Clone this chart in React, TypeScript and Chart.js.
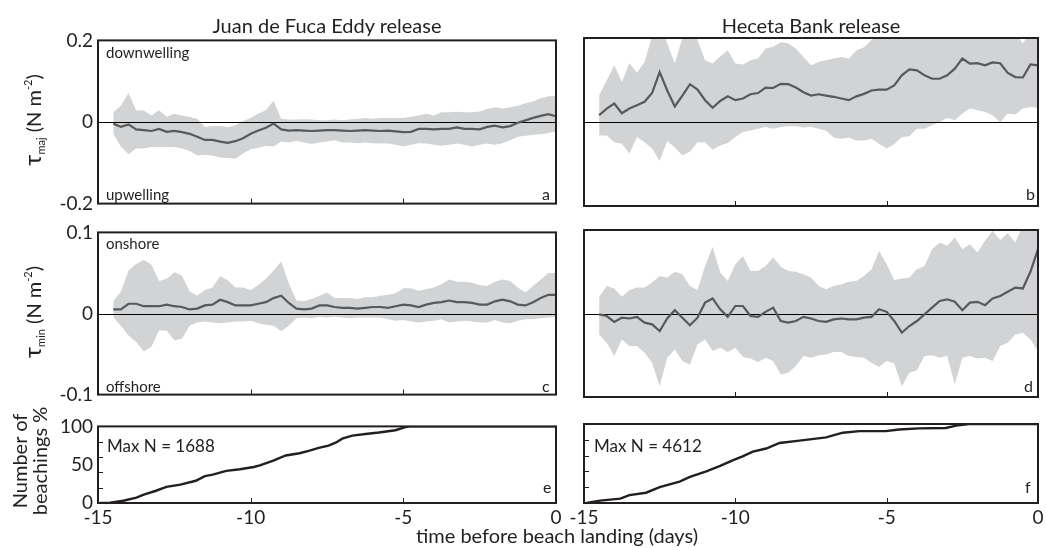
import React, { useEffect, useRef } from "react";
import { Chart, registerables } from "chart.js";
Chart.register(...registerables);

// ---------- data ----------
const DAYS = [-14.5, -14.25, -14, -13.75, -13.5, -13.25, -13, -12.75, -12.5, -12.25, -12, -11.75, -11.5, -11.25, -11, -10.75, -10.5, -10.25, -10, -9.75, -9.5, -9.25, -9, -8.75, -8.5, -8.25, -8, -7.75, -7.5, -7.25, -7, -6.75, -6.5, -6.25, -6, -5.75, -5.5, -5.25, -5, -4.75, -4.5, -4.25, -4, -3.75, -3.5, -3.25, -3, -2.75, -2.5, -2.25, -2, -1.75, -1.5, -1.25, -1, -0.75, -0.5, -0.25, 0];

const JDF_MAJ_MEAN = [-0.004, -0.012, -0.006, -0.018, -0.02, -0.022, -0.017, -0.024, -0.022, -0.025, -0.029, -0.036, -0.044, -0.044, -0.048, -0.051, -0.047, -0.04, -0.029, -0.021, -0.014, -0.004, -0.018, -0.021, -0.02, -0.021, -0.022, -0.021, -0.02, -0.02, -0.021, -0.022, -0.021, -0.02, -0.021, -0.022, -0.021, -0.023, -0.025, -0.024, -0.017, -0.017, -0.018, -0.017, -0.017, -0.013, -0.017, -0.017, -0.018, -0.012, -0.009, -0.013, -0.01, -0.002, 0.004, 0.01, 0.015, 0.019, 0.014];
const JDF_MAJ_UPPER = [0.024, 0.04, 0.071, 0.029, 0.028, 0.016, 0.029, 0.013, 0.02, 0.016, 0.012, 0.008, -0.012, -0.01, -0.01, -0.013, -0.008, 0.002, 0.01, 0.021, 0.029, 0.052, 0.008, 0.006, 0.006, 0.007, 0.006, 0.004, 0.004, 0.006, 0.004, 0.006, 0.008, 0.01, 0.008, 0.01, 0.01, 0.01, 0.01, 0.013, 0.016, 0.02, 0.016, 0.024, 0.024, 0.025, 0.024, 0.024, 0.026, 0.032, 0.036, 0.033, 0.036, 0.04, 0.046, 0.05, 0.058, 0.063, 0.064];
const JDF_MAJ_LOWER = [-0.028, -0.06, -0.079, -0.065, -0.065, -0.061, -0.061, -0.061, -0.061, -0.065, -0.071, -0.082, -0.08, -0.082, -0.087, -0.088, -0.09, -0.077, -0.067, -0.063, -0.058, -0.06, -0.048, -0.05, -0.046, -0.05, -0.054, -0.05, -0.048, -0.045, -0.05, -0.05, -0.052, -0.05, -0.052, -0.053, -0.053, -0.056, -0.06, -0.056, -0.052, -0.053, -0.056, -0.058, -0.056, -0.053, -0.056, -0.06, -0.056, -0.053, -0.056, -0.052, -0.045, -0.036, -0.034, -0.031, -0.03, -0.027, -0.023];

const HB_MAJ_MEAN = [0.016, 0.032, 0.044, 0.021, 0.032, 0.04, 0.048, 0.069, 0.119, 0.075, 0.037, 0.063, 0.09, 0.077, 0.052, 0.034, 0.05, 0.061, 0.052, 0.056, 0.066, 0.069, 0.082, 0.081, 0.091, 0.09, 0.082, 0.071, 0.063, 0.066, 0.063, 0.06, 0.056, 0.052, 0.061, 0.067, 0.075, 0.077, 0.077, 0.087, 0.111, 0.125, 0.123, 0.111, 0.103, 0.103, 0.111, 0.127, 0.151, 0.139, 0.14, 0.135, 0.142, 0.14, 0.117, 0.107, 0.106, 0.137, 0.135];
const HB_MAJ_UPPER = [0.063, 0.099, 0.135, 0.095, 0.14, 0.117, 0.143, 0.205, 0.24, 0.187, 0.139, 0.2, 0.24, 0.195, 0.147, 0.139, 0.156, 0.171, 0.139, 0.137, 0.147, 0.151, 0.175, 0.179, 0.19, 0.187, 0.175, 0.155, 0.135, 0.143, 0.147, 0.151, 0.155, 0.151, 0.17, 0.178, 0.195, 0.215, 0.23, 0.24, 0.23, 0.25, 0.24, 0.23, 0.25, 0.24, 0.23, 0.24, 0.25, 0.24, 0.23, 0.24, 0.23, 0.22, 0.23, 0.21, 0.187, 0.215, 0.23];
const HB_MAJ_LOWER = [-0.032, -0.032, -0.048, -0.052, -0.075, -0.036, -0.048, -0.063, -0.093, -0.045, -0.061, -0.079, -0.071, -0.048, -0.048, -0.066, -0.056, -0.05, -0.036, -0.024, -0.02, -0.016, -0.012, -0.016, -0.012, -0.01, -0.01, -0.013, -0.012, -0.016, -0.021, -0.037, -0.04, -0.037, -0.044, -0.044, -0.04, -0.052, -0.063, -0.053, -0.036, -0.034, -0.016, -0.016, -0.008, 0, 0.01, 0.004, 0.02, 0.032, 0.028, 0.024, 0.016, 0, 0.02, 0.018, 0.032, 0.036, 0.034];

const JDF_MIN_MEAN = [0.005, 0.005, 0.012, 0.012, 0.009, 0.009, 0.009, 0.011, 0.009, 0.008, 0.005, 0.006, 0.01, 0.011, 0.017, 0.014, 0.01, 0.01, 0.01, 0.012, 0.014, 0.019, 0.022, 0.013, 0.006, 0.005, 0.006, 0.01, 0.01, 0.008, 0.007, 0.007, 0.006, 0.007, 0.008, 0.008, 0.007, 0.009, 0.011, 0.01, 0.008, 0.011, 0.013, 0.014, 0.016, 0.014, 0.014, 0.013, 0.011, 0.011, 0.015, 0.017, 0.015, 0.011, 0.01, 0.014, 0.019, 0.023, 0.023];
const JDF_MIN_UPPER = [0.015, 0.027, 0.053, 0.061, 0.066, 0.06, 0.04, 0.043, 0.051, 0.047, 0.027, 0.022, 0.029, 0.032, 0.046, 0.041, 0.032, 0.032, 0.029, 0.035, 0.043, 0.053, 0.064, 0.037, 0.016, 0.015, 0.018, 0.022, 0.026, 0.019, 0.019, 0.019, 0.018, 0.02, 0.02, 0.022, 0.023, 0.025, 0.031, 0.031, 0.028, 0.03, 0.032, 0.036, 0.042, 0.039, 0.039, 0.038, 0.035, 0.034, 0.039, 0.042, 0.04, 0.032, 0.026, 0.034, 0.042, 0.05, 0.05];
const JDF_MIN_LOWER = [-0.005, -0.015, -0.027, -0.035, -0.047, -0.041, -0.021, -0.021, -0.033, -0.031, -0.015, -0.011, -0.01, -0.011, -0.012, -0.011, -0.01, -0.01, -0.009, -0.012, -0.014, -0.015, -0.022, -0.015, -0.006, -0.005, -0.006, -0.004, -0.005, -0.004, -0.005, -0.006, -0.005, -0.005, -0.005, -0.005, -0.007, -0.009, -0.008, -0.01, -0.011, -0.01, -0.009, -0.007, -0.011, -0.01, -0.009, -0.01, -0.011, -0.011, -0.008, -0.011, -0.012, -0.009, -0.007, -0.007, -0.006, -0.005, -0.004];

const HB_MIN_MEAN = [-0.001, -0.003, -0.01, -0.005, -0.006, -0.004, -0.011, -0.013, -0.021, -0.006, 0.004, -0.005, -0.014, -0.005, 0.013, 0.018, 0.005, -0.004, 0.009, 0.009, -0.003, -0.004, 0.002, 0.007, -0.009, -0.011, -0.009, -0.004, -0.006, -0.009, -0.01, -0.007, -0.006, -0.007, -0.007, -0.005, -0.004, 0.005, 0.002, -0.009, -0.023, -0.015, -0.009, -0.001, 0.007, 0.015, 0.017, 0.014, 0.004, 0.013, 0.014, 0.01, 0.018, 0.021, 0.026, 0.031, 0.03, 0.05, 0.077];
const HB_MIN_UPPER = [0.02, 0.033, 0.03, 0.02, 0.028, 0.031, 0.031, 0.037, 0.045, 0.043, 0.05, 0.047, 0.033, 0.028, 0.057, 0.08, 0.049, 0.039, 0.059, 0.069, 0.051, 0.051, 0.057, 0.067, 0.056, 0.051, 0.05, 0.047, 0.043, 0.033, 0.029, 0.033, 0.035, 0.038, 0.039, 0.045, 0.053, 0.075, 0.059, 0.04, 0.042, 0.043, 0.053, 0.057, 0.077, 0.085, 0.081, 0.091, 0.077, 0.083, 0.073, 0.087, 0.099, 0.088, 0.096, 0.085, 0.105, 0.11, 0.11];
const HB_MIN_LOWER = [-0.025, -0.035, -0.051, -0.031, -0.039, -0.039, -0.047, -0.059, -0.087, -0.053, -0.043, -0.057, -0.061, -0.037, -0.031, -0.045, -0.041, -0.046, -0.041, -0.052, -0.054, -0.058, -0.053, -0.057, -0.073, -0.071, -0.063, -0.051, -0.053, -0.05, -0.049, -0.046, -0.046, -0.051, -0.052, -0.053, -0.059, -0.064, -0.057, -0.06, -0.087, -0.071, -0.068, -0.051, -0.05, -0.053, -0.051, -0.085, -0.053, -0.051, -0.054, -0.053, -0.057, -0.039, -0.035, -0.025, -0.023, -0.031, -0.045];

const JDF_BEACH_DAYS = [-14.93, -14.6, -14.17, -13.74, -13.5, -13.1, -12.76, -12.3, -11.8, -11.5, -11.24, -10.8, -10.35, -9.9, -9.7, -9.28, -8.85, -8.4, -8.1, -7.77, -7.45, -7.2, -7.0, -6.67, -6.24, -5.8, -5.26, -4.93, -4.8, 0];
const JDF_BEACH_PCT = [0, 0.5, 3, 7, 11, 16, 21, 24, 29, 35, 37, 42, 44, 47, 49, 55, 62, 65, 68, 72, 75, 79, 84, 88, 90, 92, 95, 99, 100, 100];
const HB_BEACH_DAYS = [-14.91, -14.47, -13.8, -13.5, -12.95, -12.5, -11.84, -11.5, -10.96, -10.5, -10.09, -9.76, -9.42, -8.98, -8.54, -7.88, -7.0, -6.45, -5.9, -5.03, -4.59, -3.93, -3.05, -2.7, -2.28, 0];
const HB_BEACH_PCT = [0, 3, 5.5, 10, 13, 20, 27, 33, 40, 47, 54, 59, 65, 69, 76, 79, 83, 89, 91, 91, 93, 94.5, 95, 98, 100, 100];

const X_TICKS = [-15, -10, -5, 0];
const X_INNER_TICKS = [-10, -5];
const TAU_MAJ_TICKS = [-0.2, 0, 0.2];
const TAU_MIN_TICKS = [-0.1, 0, 0.1];
const PCT_TICKS = [0, 50, 100];
const PCT_INNER_TICKS = [20, 40, 60, 80];

// ---------- styles ----------
const FONT = "Lato, 'Open Sans', sans-serif";
const INK = "#231f20";
const BAND = "#d1d3d4";
const MEAN = "#58595b";
const PT = 14;
const PR = 10;

const framePlugin = {
  id: "frame",
  beforeDatasetDraw(chart: any, args: any, opts: any) {
    if (!opts.zero || args.index !== 0) return;
    const { ctx, chartArea: a, scales } = chart;
    const y = Math.round(scales.y.getPixelForValue(0)) + 0.5;
    ctx.save();
    ctx.strokeStyle = "#000";
    ctx.lineWidth = 1;
    ctx.beginPath();
    ctx.moveTo(a.left, y);
    ctx.lineTo(a.right, y);
    ctx.stroke();
    ctx.restore();
  },
  afterDraw(chart: any, _args: any, opts: any) {
    const { ctx, chartArea: a, scales } = chart;
    ctx.save();
    ctx.strokeStyle = INK;
    ctx.lineWidth = 2;
    ctx.strokeRect(a.left, a.top, a.right - a.left, a.bottom - a.top);
    ctx.lineWidth = 1;
    ctx.beginPath();
    (opts.xTicks || []).forEach((v: number) => {
      const x = Math.round(scales.x.getPixelForValue(v)) + 0.5;
      ctx.moveTo(x, a.bottom);
      ctx.lineTo(x, a.bottom - 5);
    });
    (opts.yTicks || []).forEach((v: number) => {
      const y = Math.round(scales.y.getPixelForValue(v)) + 0.5;
      ctx.moveTo(a.left, y);
      ctx.lineTo(a.left + 5, y);
    });
    ctx.stroke();
    ctx.restore();
  },
};

const zip = (xs: number[], ys: number[]) => xs.map((x, i) => ({ x, y: ys[i] }));

type PanelSpec = {
  L: number; R: number; T: number; B: number;
  yw: number; xh: number;
  showY: boolean; showX: boolean;
  ymin: number; ymax: number; yTicks: number[];
  band?: { mean: number[]; upper: number[]; lower: number[] };
  cum?: { days: number[]; pct: number[] };
  innerY?: number[];
};

function Panel({ p }: { p: PanelSpec }) {
  const ref = useRef<HTMLCanvasElement | null>(null);
  const w = p.yw + (p.R - p.L) + PR;
  const h = PT + (p.B - p.T) + p.xh;
  useEffect(() => {
    const datasets: any[] = [];
    if (p.band) {
      datasets.push({ data: zip(DAYS, p.band.mean), borderColor: MEAN, borderWidth: 2.2, pointRadius: 0, fill: false });
      datasets.push({ data: zip(DAYS, p.band.upper), borderColor: "rgba(0,0,0,0)", borderWidth: 0, backgroundColor: BAND, pointRadius: 0, fill: "+1" });
      datasets.push({ data: zip(DAYS, p.band.lower), borderColor: "rgba(0,0,0,0)", borderWidth: 0, pointRadius: 0, fill: false });
    } else if (p.cum) {
      datasets.push({ data: zip(p.cum.days, p.cum.pct), borderColor: INK, borderWidth: 2.4, pointRadius: 0, fill: false });
    }
    const font = { family: FONT, size: 19 };
    const chart = new Chart(ref.current as HTMLCanvasElement, {
      type: "line",
      data: { datasets },
      plugins: [framePlugin],
      options: {
        responsive: false,
        animation: false,
        events: [],
        layout: { padding: { top: PT, right: PR, bottom: 0, left: 0 } },
        plugins: {
          legend: { display: false },
          tooltip: { enabled: false },
          frame: { zero: !!p.band, xTicks: X_INNER_TICKS, yTicks: p.innerY || [] },
        } as any,
        scales: {
          x: {
            type: "linear",
            min: -15,
            max: 0,
            afterBuildTicks: (s: any) => { s.ticks = X_TICKS.map((v) => ({ value: v })); },
            afterFit: (s: any) => { s.height = p.xh; },
            ticks: { display: p.showX, autoSkip: false, maxRotation: 0, font, color: INK, padding: 3, callback: (v: any) => String(v) },
            grid: { display: false, drawTicks: false },
            border: { display: false },
          },
          y: {
            type: "linear",
            min: p.ymin,
            max: p.ymax,
            afterBuildTicks: (s: any) => { s.ticks = p.yTicks.map((v) => ({ value: v })); },
            afterFit: (s: any) => { s.width = p.yw; },
            ticks: { display: p.showY, font, color: INK, padding: 5, callback: (v: any) => String(v) },
            grid: { display: false, drawTicks: false },
            border: { display: false },
          },
        } as any,
      },
    } as any);
    return () => chart.destroy();
  }, []);
  return (
    <canvas
      ref={ref}
      width={w}
      height={h}
      style={{ position: "absolute", left: p.L - p.yw, top: p.T - PT, width: w, height: h }}
    />
  );
}

const COL_L = { L: 98, R: 556, yw: 60, showY: true };
const COL_R = { L: 584, R: 1038, yw: 20, showY: false };
const ROW1 = { T: 38, B: 206, xh: 14, showX: false, ymin: -0.2, ymax: 0.2, yTicks: TAU_MAJ_TICKS };
const ROW2 = { T: 230, B: 397, xh: 14, showX: false, ymin: -0.1, ymax: 0.1, yTicks: TAU_MIN_TICKS };
const ROW3 = { T: 424, B: 503, xh: 30, showX: true, ymin: 0, ymax: 100, yTicks: PCT_TICKS, innerY: PCT_INNER_TICKS };

const PANELS: PanelSpec[] = [
  { ...COL_L, ...ROW1, band: { mean: JDF_MAJ_MEAN, upper: JDF_MAJ_UPPER, lower: JDF_MAJ_LOWER } },
  { ...COL_R, ...ROW1, band: { mean: HB_MAJ_MEAN, upper: HB_MAJ_UPPER, lower: HB_MAJ_LOWER } },
  { ...COL_L, ...ROW2, band: { mean: JDF_MIN_MEAN, upper: JDF_MIN_UPPER, lower: JDF_MIN_LOWER } },
  { ...COL_R, ...ROW2, band: { mean: HB_MIN_MEAN, upper: HB_MIN_UPPER, lower: HB_MIN_LOWER } },
  { ...COL_L, ...ROW3, cum: { days: JDF_BEACH_DAYS, pct: JDF_BEACH_PCT } },
  { ...COL_R, ...ROW3, cum: { days: HB_BEACH_DAYS, pct: HB_BEACH_PCT } },
];

function T({ x, base, size, children, align = "left" }: any) {
  const top = base - 0.887 * size;
  const style: any = {
    position: "absolute",
    top,
    fontFamily: FONT,
    fontSize: size,
    lineHeight: `${size}px`,
    color: INK,
    whiteSpace: "nowrap",
  };
  if (align === "center") {
    style.left = x - 300;
    style.width = 600;
    style.textAlign = "center";
  } else {
    style.left = x;
  }
  return <div style={style}>{children}</div>;
}

function VLabel({ cx, cy, children, lines = 1 }: any) {
  const W = 220;
  const H = 22 * lines;
  return (
    <div
      style={{
        position: "absolute",
        left: cx - W / 2,
        top: cy - H / 2,
        width: W,
        height: H,
        transform: "rotate(-90deg)",
        transformOrigin: "50% 50%",
        textAlign: "center",
        fontFamily: FONT,
        fontSize: 20,
        lineHeight: "20px",
        color: INK,
        whiteSpace: "nowrap",
      }}
    >
      {children}
    </div>
  );
}

const subStyle: any = { fontSize: 11, verticalAlign: "-4px", lineHeight: 0 };
const supStyle: any = { fontSize: 11, verticalAlign: "9px", lineHeight: 0 };

export default function App() {
  return (
    <div style={{ position: "absolute", left: 0, top: 0, width: 1046, height: 548, background: "#fff", overflow: "hidden" }}>
      {PANELS.map((p, i) => (
        <Panel key={i} p={p} />
      ))}
      <T x={327} base={33} size={20} align="center">Juan de Fuca Eddy release</T>
      <T x={811} base={33} size={20} align="center">Heceta Bank release</T>

      <T x={106} base={58} size={15}>downwelling</T>
      <T x={106} base={200} size={15}>upwelling</T>
      <T x={106} base={249} size={15}>onshore</T>
      <T x={106} base={392} size={15}>offshore</T>

      <T x={542} base={200} size={16}>a</T>
      <T x={1026} base={200} size={16}>b</T>
      <T x={542} base={392} size={16}>c</T>
      <T x={1024} base={392} size={16}>d</T>
      <T x={543} base={493} size={16}>e</T>
      <T x={1025} base={493} size={16}>f</T>

      <T x={107} base={452} size={17}>Max N = 1688</T>
      <T x={594} base={452} size={17}>Max N = 4612</T>

      <T x={557} base={543} size={20} align="center">time before beach landing (days)</T>

      <VLabel cx={33} cy={120}>
        <span style={{ fontSize: 24 }}>τ</span>
        <span style={subStyle}>maj</span> (N m<span style={supStyle}>-2</span>)
      </VLabel>
      <VLabel cx={33} cy={312}>
        <span style={{ fontSize: 24 }}>τ</span>
        <span style={subStyle}>min</span> (N m<span style={supStyle}>-2</span>)
      </VLabel>
      <VLabel cx={31} cy={461} lines={2}>
        Number of
        <br />
        beachings %
      </VLabel>
    </div>
  );
}
